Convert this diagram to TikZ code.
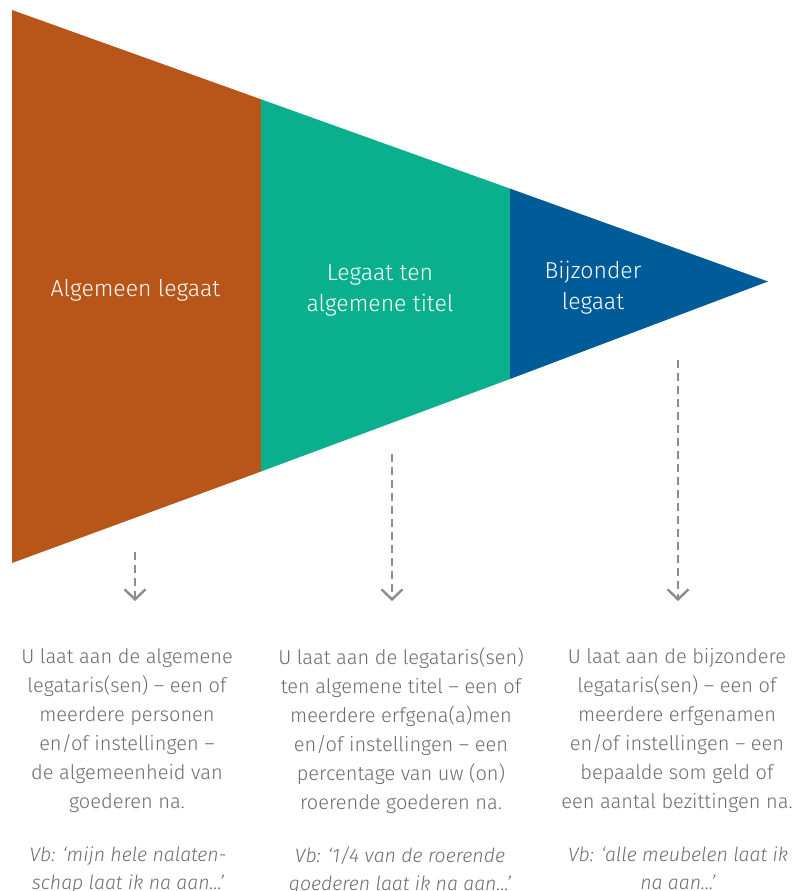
\documentclass[tikz,border=0pt]{standalone}
\usepackage{fontspec}
\setmainfont{Fira Sans Light}[ItalicFont={Fira Sans Light Italic}]
\usepackage{xcolor}
\usetikzlibrary{arrows.meta}
\definecolor{oranje}{RGB}{184,86,26}
\definecolor{groen}{RGB}{10,176,142}
\definecolor{blauw}{RGB}{0,92,153}
\definecolor{grijs}{RGB}{108,108,108}
\definecolor{pijlgrijs}{RGB}{140,140,142}

\begin{document}
\begin{tikzpicture}[x=1pt,y=-1pt,
  label/.style={text=white,align=center,inner sep=0pt,font=\fontsize{23}{31}\selectfont},
  uitleg/.style={text=grijs,align=center,inner sep=0pt,anchor=north,font=\fontsize{20}{29}\selectfont},
  voorbeeld/.style={uitleg,font=\fontsize{19.5}{28}\selectfont\itshape},
  pijl/.style={pijlgrijs,line width=2.4pt,dash pattern=on 8pt off 5pt,-{Straight Barb[length=10pt,width=21pt,line width=2.4pt]}}]
  \useasboundingbox (0,0) rectangle (798,891);
  % driehoek in drie delen
  \fill[oranje] (12,10) -- (261,99.3) -- (261,471.5) -- (12,563) -- cycle;
  \fill[groen]  (261,99.3) -- (510,188.6) -- (510,379) -- (261,471.5) -- cycle;
  \fill[blauw]  (510,188.6) -- (768,281.5) -- (510,379) -- cycle;

  \node[label] (alg) at (135.5,290) {Algemeen legaat};
  \node[label] (tit) at (380,290)   {Legaat ten\\algemene titel};
  \node[label] (bij) at (593,288)   {Bijzonder\\legaat};

  \node[uitleg] (t1) at (127,648) {U laat aan de algemene\\legataris(sen) – een of\\meerdere personen\\en/of instellingen –\\de algemeenheid van\\goederen na.};
  \node[uitleg] (t2) at (401,648) {U laat aan de legataris(sen)\\ten algemene titel – een of\\meerdere erfgena(a)men\\en/of instellingen – een\\percentage van uw (on)\\roerende goederen na.};
  \node[uitleg] (t3) at (677,648) {U laat aan de bijzondere\\legataris(sen) – een of\\meerdere erfgenamen\\en/of instellingen – een\\bepaalde som geld of\\een aantal bezittingen na.};

  \node[voorbeeld] (v1) at (128,847) {Vb: ‘mijn hele nalaten-\\schap laat ik na aan…’};
  \node[voorbeeld] (v2) at (400,847) {Vb: ‘1/4 van de roerende\\goederen laat ik na aan…’};
  \node[voorbeeld] (v3) at (678,847) {Vb: ‘alle meubelen laat ik\\na aan…’};

  % pijlen
  \coordinate (p1) at (135,552);  \coordinate (q1) at (135,601);
  \coordinate (p2) at (392,454);  \coordinate (q2) at (392,601);
  \coordinate (p3) at (678,360);  \coordinate (q3) at (678,601);
  \draw[pijl] (p1) -- (q1);
  \draw[pijl] (p2) -- (q2);
  \draw[pijl] (p3) -- (q3);
\end{tikzpicture}
\end{document}
